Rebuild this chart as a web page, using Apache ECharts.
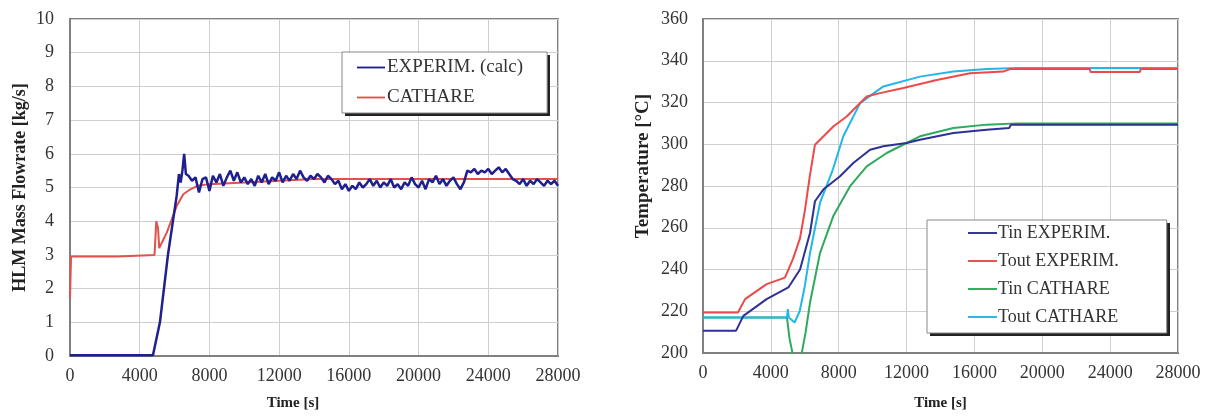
<!DOCTYPE html>
<html>
<head>
<meta charset="utf-8">
<script src="https://cdn.jsdelivr.net/npm/echarts@6/dist/echarts.min.js"></script>
<style>
html,body{margin:0;padding:0;background:#fff;}
#chart{width:1211px;height:416px;}
</style>
</head>
<body>
<div id="chart"></div>
<script>
// ---- Left chart: HLM mass flowrate [kg/s] vs time [s] ----
const flowExperim = [
  [0,0.02],[4760,0.02],[5160,1.0],[5620,3.0],[6120,4.75],[6250,5.4],[6350,5.15],[6450,5.5],[6550,6.0],[6650,5.4],
  [6800,5.35],[7000,5.20],[7200,5.30],[7400,4.85],[7600,5.25],[7800,5.30],[8000,4.90],[8200,5.35],[8400,5.15],[8600,5.40],
  [8800,5.05],[9000,5.30],[9200,5.50],[9400,5.20],[9600,5.45],[9800,5.15],[10000,5.30],[10200,5.10],[10400,5.25],[10600,5.05],
  [10800,5.35],[11000,5.15],[11200,5.40],[11400,5.10],[11600,5.30],[11800,5.20],[12000,5.45],[12200,5.15],[12400,5.35],[12600,5.20],
  [12800,5.40],[13000,5.25],[13200,5.50],[13400,5.30],[13600,5.20],[13800,5.35],[14000,5.25],[14200,5.40],[14400,5.30],[14600,5.15],
  [14800,5.35],[15000,5.25],[15200,5.10],[15400,5.20],[15600,4.95],[15800,5.10],[16000,4.90],[16200,5.05],[16400,4.95],[16600,5.15],
  [16800,5.00],[17000,5.10],[17200,5.25],[17400,5.05],[17600,5.20],[17800,5.00],[18000,5.15],[18200,5.05],[18400,5.25],[18600,5.00],
  [18800,5.10],[19000,4.95],[19200,5.15],[19400,5.05],[19600,5.30],[19800,5.10],[20000,5.00],[20200,5.20],[20400,4.95],[20600,5.25],
  [20800,5.15],[21000,5.35],[21200,5.10],[21400,5.25],[21600,5.05],[21800,5.20],[22000,5.30],[22200,5.10],[22400,4.95],[22600,5.15],
  [22800,5.50],[23000,5.45],[23200,5.55],[23400,5.40],[23600,5.50],[23800,5.45],[24000,5.55],[24200,5.40],[24400,5.50],[24600,5.60],
  [24800,5.45],[25000,5.55],[25200,5.40],[25400,5.25],[25600,5.20],[25800,5.10],[26000,5.25],[26200,5.05],[26400,5.20],[26600,5.10],
  [26800,5.25],[27000,5.15],[27200,5.05],[27400,5.20],[27600,5.10],[27800,5.20],[28000,5.05]
];
const flowCathare = [
  [0,1.7],[60,2.95],[2700,2.95],[2800,3.0],[4850,3.0],[4950,4.0],[5050,3.8],[5120,3.2],[5400,3.5],[5550,3.66],
  [5800,4.0],[6120,4.45],[6500,4.8],[6885,4.94],[7300,5.05],[8000,5.1],[10000,5.15],[12000,5.2],[14000,5.25],[28000,5.25]
];

// ---- Right chart: temperatures [°C] vs time [s] ----
const tinExperim = [
  [0,210.7],[1950,210.7],[2380,217.8],[3750,225.8],[5030,231.4],[5720,240],[6310,257.6],[6600,272.7],[7090,278.3],[8080,284.7],
  [8860,291],[9850,297.4],[10630,299],[12000,300.6],[12790,302.2],[14760,305.4],[16720,307],[18050,307.8],[18150,309.3],[28000,309.3]
];
const toutExperim = [
  [0,219.4],[2060,219.4],[2480,225.8],[3750,233],[4830,236.1],[5300,245],[5720,255],[6000,268],[6300,285],[6600,299.8],
  [7680,308.5],[8470,313.3],[9650,322.9],[10430,324.5],[11810,326.9],[13780,330.8],[15740,334],[17700,334.8],[18100,336],[22800,336],
  [22850,334.6],[25750,334.6],[25800,336],[28000,336]
];
const tinCathare = [
  [0,217],[4950,217],[5100,207],[5300,199],[5550,195],[5800,199],[6050,210],[6310,224.2],[6900,248],[7680,265.6],
  [8670,279.9],[9650,289.4],[10830,295.8],[12000,300.6],[12790,303.8],[14760,307.8],[16720,309.4],[18500,310],[28000,310]
];
const toutCathare = [
  [0,217],[4950,217],[5000,221],[5060,217],[5400,214.6],[5700,220],[6000,232],[6310,248],[6900,272],[7660,288],
  [8270,303.8],[9260,319.7],[10630,327.7],[12790,332.4],[14760,334.8],[16720,336.1],[18500,336.5],[28000,336.5]
];

const leftNames = ['EXPERIM. (calc)', 'CATHARE'];
const rightNames = ['Tin EXPERIM.', 'Tout EXPERIM.', 'Tin CATHARE', 'Tout CATHARE'];
const xTicks = {min: 0, max: 28000, interval: 4000};
const leftY = {min: 0, max: 10, interval: 1};
const rightY = {min: 200, max: 360, interval: 20};

const FONT = '"Liberation Serif", "Times New Roman", serif';
const gridLine = {show: true, lineStyle: {color: '#cfcfcf', width: 1}};
const axisLine = {show: true, lineStyle: {color: '#808080', width: 2}};
const plain = v => String(v);
const tickLabel = {fontFamily: FONT, fontSize: 18, color: '#333', formatter: plain};
const legendIcon = 'path://M0,0H30V2H0Z';

const chart = echarts.init(document.getElementById('chart'), null, {renderer: 'canvas'});
chart.setOption({
  animation: false,
  backgroundColor: '#ffffff',
  graphic: [
    {type: 'rect', shape: {x: 345, y: 55, width: 205, height: 61}, style: {fill: '#222'}, z: 3, silent: true},
    {type: 'rect', shape: {x: 930, y: 223, width: 240, height: 113}, style: {fill: '#222'}, z: 3, silent: true}
  ],
  grid: [
    {left: 70, top: 19, width: 488, height: 338, show: true, borderColor: '#808080', borderWidth: 2, backgroundColor: '#fff'},
    {left: 703, top: 19, width: 475, height: 335, show: true, borderColor: '#808080', borderWidth: 2, backgroundColor: '#fff'}
  ],
  legend: [
    {
      data: leftNames, orient: 'vertical', left: 342, top: 52,
      padding: [6, 24, 6, 15], itemGap: 11, itemWidth: 28, itemHeight: 2, icon: legendIcon,
      backgroundColor: '#fff', borderColor: '#888', borderWidth: 1, z: 10,
      textStyle: {fontFamily: FONT, fontSize: 19, color: '#333', padding: [0, 0, 0, -3]}
    },
    {
      data: rightNames, orient: 'vertical', left: 927, top: 220,
      padding: [4, 48, 7, 41], itemGap: 10, itemWidth: 29, itemHeight: 2, icon: legendIcon,
      backgroundColor: '#fff', borderColor: '#888', borderWidth: 1, z: 10,
      textStyle: {fontFamily: FONT, fontSize: 18, color: '#333', padding: [0, 0, 0, -4]}
    }
  ],
  xAxis: [
    {
      gridIndex: 0, type: 'value', min: xTicks.min, max: xTicks.max, interval: xTicks.interval,
      name: 'Time [s]', nameLocation: 'middle', nameGap: 40,
      nameTextStyle: {fontFamily: FONT, fontSize: 15, fontWeight: 'bold', color: '#222', padding: [0, 42, 0, 0]},
      axisLine: axisLine, axisTick: {show: false}, splitLine: gridLine,
      axisLabel: Object.assign({margin: 11}, tickLabel)
    },
    {
      gridIndex: 1, type: 'value', min: xTicks.min, max: xTicks.max, interval: xTicks.interval,
      name: 'Time [s]', nameLocation: 'middle', nameGap: 43,
      nameTextStyle: {fontFamily: FONT, fontSize: 15, fontWeight: 'bold', color: '#222'},
      axisLine: axisLine, axisTick: {show: false}, splitLine: gridLine,
      axisLabel: Object.assign({margin: 11}, tickLabel)
    }
  ],
  yAxis: [
    {
      gridIndex: 0, type: 'value', min: leftY.min, max: leftY.max, interval: leftY.interval,
      name: 'HLM Mass Flowrate [kg/s]', nameLocation: 'middle', nameGap: 41, nameRotate: 90,
      nameTextStyle: {fontFamily: FONT, fontSize: 18, fontWeight: 'bold', color: '#222'},
      axisLine: axisLine, axisTick: {show: false}, splitLine: gridLine,
      axisLabel: Object.assign({margin: 16}, tickLabel)
    },
    {
      gridIndex: 1, type: 'value', min: rightY.min, max: rightY.max, interval: rightY.interval,
      name: 'Temperature [°C]', nameLocation: 'middle', nameGap: 50, nameRotate: 90,
      nameTextStyle: {fontFamily: FONT, fontSize: 19, fontWeight: 'bold', color: '#222', padding: [0, 0, 0, 40]},
      axisLine: axisLine, axisTick: {show: false}, splitLine: gridLine,
      axisLabel: Object.assign({margin: 15}, tickLabel)
    }
  ],
  series: [
    {name: leftNames[1], type: 'line', xAxisIndex: 0, yAxisIndex: 0, data: flowCathare, symbol: 'none', clip: true,
     lineStyle: {color: '#e0524a', width: 2}, itemStyle: {color: '#e0524a'}, z: 2},
    {name: leftNames[0], type: 'line', xAxisIndex: 0, yAxisIndex: 0, data: flowExperim, symbol: 'none', clip: true,
     lineStyle: {color: '#1f1f8f', width: 2.5}, itemStyle: {color: '#1f1f8f'}, z: 3},
    {name: rightNames[2], type: 'line', xAxisIndex: 1, yAxisIndex: 1, data: tinCathare, symbol: 'none', clip: true,
     lineStyle: {color: '#2faa5c', width: 2}, itemStyle: {color: '#2faa5c'}},
    {name: rightNames[3], type: 'line', xAxisIndex: 1, yAxisIndex: 1, data: toutCathare, symbol: 'none', clip: true,
     lineStyle: {color: '#23b7e8', width: 2}, itemStyle: {color: '#23b7e8'}},
    {name: rightNames[0], type: 'line', xAxisIndex: 1, yAxisIndex: 1, data: tinExperim, symbol: 'none', clip: true,
     lineStyle: {color: '#2e3192', width: 2}, itemStyle: {color: '#2e3192'}},
    {name: rightNames[1], type: 'line', xAxisIndex: 1, yAxisIndex: 1, data: toutExperim, symbol: 'none', clip: true,
     lineStyle: {color: '#ec4a4a', width: 2}, itemStyle: {color: '#ec4a4a'}}
  ]
});
</script>
</body>
</html>
